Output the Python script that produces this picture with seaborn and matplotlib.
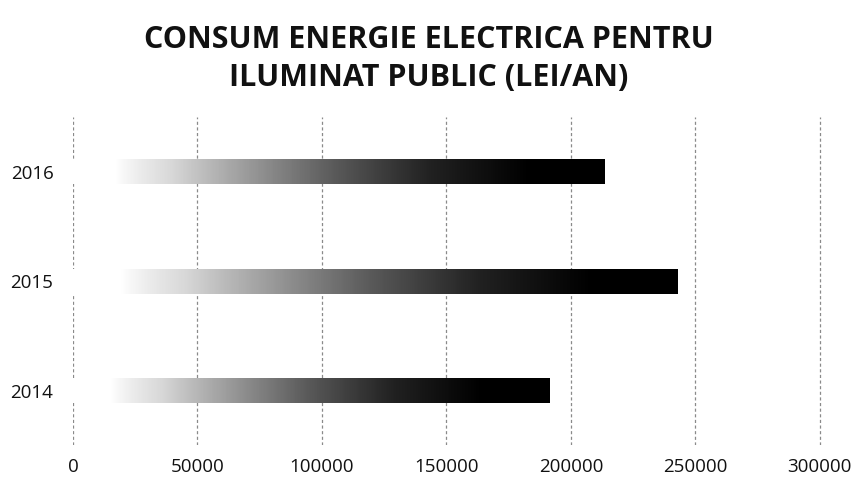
import numpy as np
import pandas as pd
import matplotlib
matplotlib.use("Agg")
import matplotlib.pyplot as plt
import seaborn as sns
from matplotlib.colors import LinearSegmentedColormap

years = ["2016", "2015", "2014"]
values = [213500, 242800, 191500]
xticks = [0, 50000, 100000, 150000, 200000, 250000, 300000]
title = "CONSUM ENERGIE ELECTRICA PENTRU\nILUMINAT PUBLIC (LEI/AN)"

sns.set_theme(style="white")
plt.rcParams["font.family"] = ["Open Sans", "DejaVu Sans"]

df = pd.DataFrame({"year": years, "value": values})

fig = plt.figure(figsize=(8.58, 4.86), dpi=100)
ax = fig.add_axes([0.085, 0.084, 0.874, 0.675])

sns.barplot(data=df, x="value", y="year", order=years, orient="h",
            width=0.23, color="black", ax=ax)

cmap = LinearSegmentedColormap.from_list(
    "g", ["#ffffff", "#d8d8d8", "#9a9a9a", "#5a5a5a", "#222222", "#000000"])
for p in ax.patches:
    x0, y0 = p.get_x(), p.get_y()
    w, h = p.get_width(), p.get_height()
    grad = np.linspace(0, 1, 256)
    grad = np.clip((grad - 0.08) / 0.78, 0, 1) ** 0.8
    img = ax.imshow(grad[np.newaxis, :], cmap=cmap, vmin=0, vmax=1,
                    extent=[x0, x0 + w, y0 + h, y0], aspect="auto",
                    zorder=p.get_zorder() + 0.1, interpolation="bilinear")
    img.set_clip_path(p)
    p.set_facecolor("none")
    p.set_edgecolor("none")

ax.set_ylim(2.5, -0.5)
ax.set_xlim(0, 301200)

ax.set_xticks(xticks)
ax.set_xticklabels([str(v) for v in xticks])
ax.xaxis.grid(True, color="#8a8a8a", linestyle=(0, (2.5, 2)), linewidth=0.9)
ax.set_axisbelow(True)
for s in ax.spines.values():
    s.set_visible(False)
ax.tick_params(axis="x", length=0, pad=9, labelsize=13.5, labelcolor="#111111")
ax.tick_params(axis="y", length=0, pad=14, labelsize=13.5, labelcolor="#111111")
ax.set_xlabel("")
ax.set_ylabel("")

fig.text(0.5, 0.879, title, ha="center", va="center", fontsize=22,
         fontweight="bold", color="#111111", linespacing=1.35)

fig.savefig("out.png", dpi=100, facecolor="white")
